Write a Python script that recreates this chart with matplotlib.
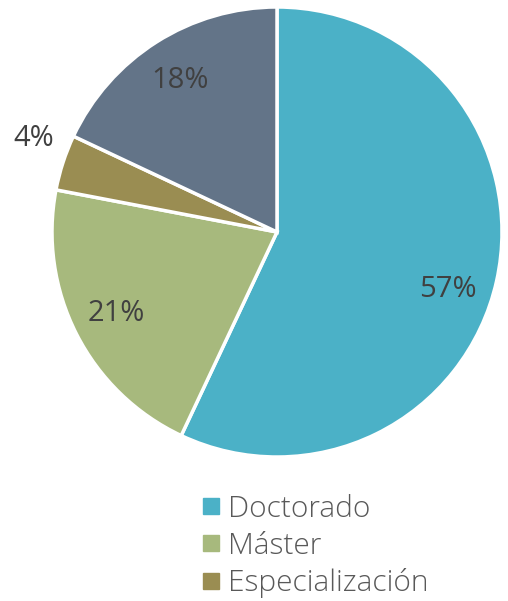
import numpy as np
import matplotlib.pyplot as plt
from matplotlib.lines import Line2D

categories = ["Doctorado", "Máster", "Especialización", "Otros"]
shares = [57, 21, 4, 18]
colors = ["#4BB1C7", "#A7B97D", "#9A8D52", "#637488"]
legend_items = categories[:3]

plt.rcParams['font.family'] = ['Open Sans', 'DejaVu Sans']

fig = plt.figure(figsize=(5.08, 6.01), dpi=100)
ax = fig.add_axes([52/508, 1 - 457/601, 450/508, 450/601])

wedges, _ = ax.pie(shares, colors=colors, startangle=90, counterclock=False,
                   radius=1.0, wedgeprops=dict(edgecolor="white", linewidth=2.5))

# percentage labels, the small slice goes outside; big one sits a bit lower like excel does
for i, (w, v) in enumerate(zip(wedges, shares)):
    mid = (w.theta1 + w.theta2) / 2
    if i == 0:
        mid -= 6
    if v < 10:
        mid -= 3
    ang = np.deg2rad(mid)
    d = 1.16 if v < 10 else 0.80
    ax.text(d*np.cos(ang), d*np.sin(ang), "%d%%" % v, ha="center", va="center",
            fontsize=21, color="#404040", fontweight="normal")

ax.set_xlim(-1, 1)
ax.set_ylim(-1, 1)
ax.set_aspect("equal")

handles = [Line2D([0], [0], marker="s", linestyle="", markersize=11,
                  markerfacecolor=c, markeredgecolor=c) for c in colors[:3]]
leg = fig.legend(handles, legend_items, loc="center", bbox_to_anchor=(316/508, 1 - 546/601),
                 frameon=False, fontsize=21.5, handlelength=0.55, handletextpad=0.3,
                 labelspacing=0.25, borderpad=0)
for t in leg.get_texts():
    t.set_color("#595959")
    t.set_fontweight("light")

fig.savefig("out.png", dpi=100)
